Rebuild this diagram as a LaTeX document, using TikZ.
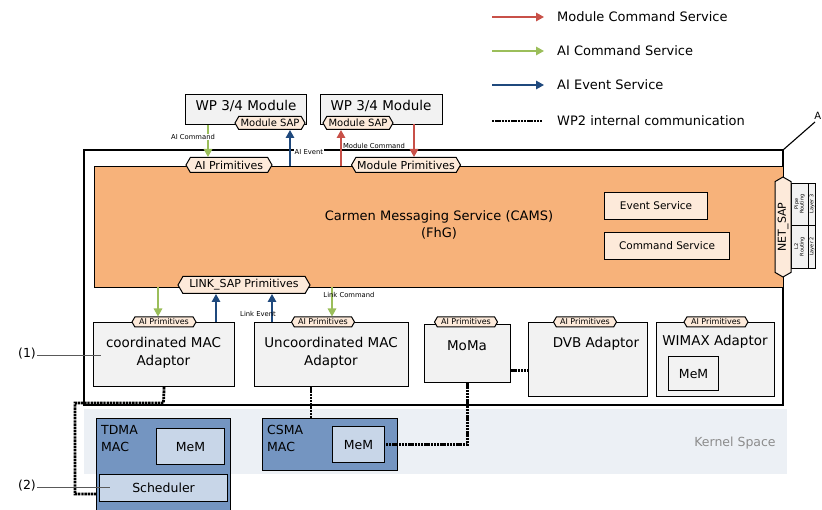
\documentclass[tikz,border=0pt]{standalone}
\usepackage{fontspec}
\setmainfont{DejaVu Sans}
\usetikzlibrary{shapes.symbols,arrows.meta,calc}
\definecolor{camsor}{RGB}{247,178,122}
\definecolor{peach}{RGB}{253,234,218}
\definecolor{boxgray}{RGB}{242,242,242}
\definecolor{macblue}{RGB}{116,149,193}
\definecolor{lblue}{RGB}{200,214,232}
\definecolor{kband}{RGB}{236,240,245}
\definecolor{cred}{RGB}{200,80,72}
\definecolor{cgreen}{RGB}{155,190,90}
\definecolor{cblue}{RGB}{31,73,125}
\begin{document}
\begin{tikzpicture}[x=1pt,y=-1pt,
  gbox/.style={draw=black, line width=1.2pt, fill=boxgray, inner sep=0pt, anchor=north west},
  bbox/.style={draw=black, line width=1.1pt, fill=macblue, inner sep=0pt, anchor=north west},
  lbbox/.style={draw=black, line width=1.1pt, fill=lblue, inner sep=0pt, anchor=north west, font={\fontsize{12.5}{15}\selectfont}},
  pbox/.style={draw=black, line width=1.1pt, fill=peach, inner sep=0pt, anchor=north west, font={\fontsize{10.5}{13}\selectfont}},
  hexs/.style={shape=signal, signal to=west and east, signal pointer angle=120, draw=black, fill=peach, line width=1pt, inner sep=0pt},
  bigtxt/.style={font={\fontsize{13.5}{18}\selectfont}, align=center, inner sep=0pt},
  midtxt/.style={font={\fontsize{12.5}{17}\selectfont}, align=left, inner sep=0pt},
  tiny/.style={font={\fontsize{6.8}{7}\selectfont}, inner sep=0.5pt, fill=white},
  legtxt/.style={font={\fontsize{13}{15}\selectfont}, anchor=west, inner sep=0pt},
  arr/.style={line width=1.6pt, -{Triangle[width=8.5pt,length=8pt]}},
  wptwo/.style={line width=2.8pt, dash pattern=on 2.4pt off 0.8pt},
  note/.style={draw=black!65, line width=0.9pt},
  cell/.style={draw=black, line width=0.9pt, fill=boxgray},
  celltxt/.style={font={\fontsize{5}{5.5}\selectfont}, rotate=90, inner sep=0pt, align=center}
]
\useasboundingbox (0,0) rectangle (822,510);

% legend
\coordinate (l1a) at (492,17); \coordinate (l1b) at (544,17);
\coordinate (l2a) at (492,51); \coordinate (l2b) at (544,51);
\coordinate (l3a) at (492,85); \coordinate (l3b) at (544,85);
\coordinate (l4a) at (492,121); \coordinate (l4b) at (543,121);
\draw[arr, cred] (l1a) -- (l1b);
\draw[arr, cgreen] (l2a) -- (l2b);
\draw[arr, cblue] (l3a) -- (l3b);
\draw[wptwo] (l4a) -- (l4b);
\node[legtxt] (lt1) at (557,17) {Module Command Service};
\node[legtxt] (lt2) at (557,51) {AI Command Service};
\node[legtxt] (lt3) at (557,85) {AI Event Service};
\node[legtxt] (lt4) at (557,121) {WP2 internal communication};

% kernel band
\fill[kband] (84,409) rectangle (787,474);
\node[font={\fontsize{12.5}{15}\selectfont}, text=black!45] (kern) at (735,443) {Kernel Space};

% frame
\draw[line width=1.1pt] (84,150) rectangle (783,405);
\coordinate (fr) at (783,150);
\coordinate (fa) at (815,122);
\draw[line width=1.1pt] (fr) -- (fa);
\node[anchor=east, inner sep=0.5pt, font={\fontsize{10}{12}\selectfont}] (aa) at (822,116) {A};

% CAMS
\node[fill=camsor, draw=black, line width=0.8pt, anchor=north west, minimum width=689pt, minimum height=121pt, inner sep=0pt] (cams) at (94,166) {};
\node[bigtxt, font={\fontsize{13}{17}\selectfont}] (camst) at (439,225) {Carmen Messaging Service (CAMS)\\(FhG)};
\node[pbox, minimum width=103pt, minimum height=27pt] (evs) at (604,192) {Event Service};
\node[pbox, minimum width=125pt, minimum height=27pt] (cms) at (604,232) {Command Service};

% NET_SAP and routing cells
\draw[cell] (791,183) rectangle (808,225);
\draw[cell] (808.5,183) rectangle (815,225);
\draw[cell] (791,225) rectangle (808,268);
\draw[cell] (808.5,225) rectangle (815,268);
\node[celltxt] (c1) at (799.5,204) {Pipe\\Routing};
\node[celltxt] (c2) at (812,204) {Layer 3};
\node[celltxt] (c3) at (799.5,246.5) {L2\\Routing};
\node[celltxt] (c4) at (812,246.5) {Layer 2};
\node[hexs, rotate=90, minimum width=100pt, minimum height=16pt, font={\fontsize{11}{13}\selectfont}] (netsap) at (783,227) {NET\_SAP};

% primitives on CAMS
\node[hexs, minimum width=86pt, minimum height=15pt, font={\fontsize{11}{13}\selectfont}] (aip) at (229,165) {AI Primitives};
\node[hexs, minimum width=109pt, minimum height=15pt, font={\fontsize{11}{13}\selectfont}] (mop) at (406,165) {Module Primitives};
\node[hexs, minimum width=132pt, minimum height=17pt, font={\fontsize{11}{13}\selectfont}] (lsap) at (244,285) {LINK\_SAP Primitives};

% WP modules
\node[gbox, minimum width=121pt, minimum height=30pt] (wp1) at (185,94) {};
\node[bigtxt] (wp1t) at (246,106) {WP 3/4 Module};
\node[hexs, minimum width=70pt, minimum height=13pt, font={\fontsize{10}{12}\selectfont}] (sap1) at (270,123) {Module SAP};
\node[gbox, minimum width=122pt, minimum height=30pt] (wp2) at (320,94) {};
\node[bigtxt] (wp2t) at (381,106) {WP 3/4 Module};
\node[hexs, minimum width=70pt, minimum height=13pt, font={\fontsize{10}{12}\selectfont}] (sap2) at (358,123) {Module SAP};

% adaptors
\node[gbox, minimum width=141pt, minimum height=64pt] (cma) at (93,322) {};
\node[bigtxt] (cmat) at (163.5,353) {coordinated MAC\\Adaptor};
\node[gbox, minimum width=154pt, minimum height=64pt] (uma) at (254,322) {};
\node[bigtxt] (umat) at (331,353) {Uncoordinated MAC\\Adaptor};
\node[gbox, minimum width=86pt, minimum height=58pt] (moma) at (424,324) {};
\node[bigtxt] (momat) at (467,346) {MoMa};
\node[gbox, minimum width=119pt, minimum height=74pt] (dvb) at (528,322) {};
\node[bigtxt] (dvbt) at (596,344) {DVB Adaptor};
\node[gbox, minimum width=118pt, minimum height=74pt] (wim) at (656,322) {};
\node[bigtxt] (wimt) at (715,342) {WIMAX Adaptor};
\node[gbox, minimum width=50pt, minimum height=34pt, font={\fontsize{12.5}{15}\selectfont}] (wmem) at (668,356) {MeM};

\foreach \n/\x/\w in {p1/164/64, p2/323/63, p3/466/63, p4/585/63, p5/716/64}
  \node[hexs, minimum width=\w pt, minimum height=10pt, font={\fontsize{8}{9}\selectfont}] (\n) at (\x,322) {AI Primitives};

% MAC boxes
\node[bbox, minimum width=134pt, minimum height=100pt] (tdma) at (96,418) {};
\node[midtxt, anchor=north west] (tdmat) at (101,425) {TDMA\\MAC};
\node[lbbox, minimum width=68pt, minimum height=36pt] (tmem) at (156,428) {MeM};
\node[lbbox, minimum width=128pt, minimum height=27pt] (sched) at (99,474) {Scheduler};
\node[bbox, minimum width=135pt, minimum height=52pt] (csma) at (262,418) {};
\node[midtxt, anchor=north west] (csmat) at (267,425) {CSMA\\MAC};
\node[lbbox, minimum width=52pt, minimum height=36pt] (cmem) at (332,426) {MeM};

% top arrows
\draw[arr, cgreen] (208,125) -- (208,157);
\node[tiny] (lac) at (193,137) {AI Command};
\draw[arr, cblue] (290,166) -- (sap1.south -| 290,0);
\node[tiny, anchor=west] (lae) at (294,152) {AI Event};
\draw[arr, cred] (341,166) -- (sap2.south -| 341,0);
\draw[arr, cred] (414,124) -- (mop.north -| 414,0);
\node[tiny] (lmc) at (374,146) {Module Command};

% lower arrows
\draw[arr, cgreen] (158,287) -- (p1.north -| 158,0);
\draw[arr, cblue] (216,322) -- (lsap.south -| 216,0);
\draw[arr, cblue] (272,322) -- (lsap.south -| 272,0);
\node[tiny, fill=none] (lle) at (258,314) {Link Event};
\draw[arr, cgreen] (332,287) -- (p2.north -| 332,0);
\node[tiny, fill=none] (llc) at (349,295) {Link Command};

% WP2 internal communication
\coordinate (w1) at (163.5,403);
\coordinate (w2) at (75,494);
\coordinate (w3) at (97,494);
\draw[wptwo] (cma.south) -- (w1) -| (w2) -- (w3);
\draw[wptwo] ($(uma.south west)+(57,0)$) -- ($(csma.north west)+(49,0)$);
\draw[wptwo] (moma.south) |- (cmem.east);
\draw[wptwo] ($(moma.south east)+(0,-13)$) -- ($(dvb.south west)+(0,-27)$);

% annotations
\node[font={\fontsize{12.5}{15}\selectfont}, inner sep=0pt] (n1) at (27,354) {(1)};
\node[font={\fontsize{12.5}{15}\selectfont}, inner sep=0pt] (n2) at (27,486) {(2)};
\coordinate (n1e) at (101,355);
\coordinate (n2e) at (110,487);
\draw[note] (n1.east) ++(1,1) -- (n1e);
\draw[note] (n2.east) ++(1,1) -- (n2e);
\end{tikzpicture}
\end{document}
